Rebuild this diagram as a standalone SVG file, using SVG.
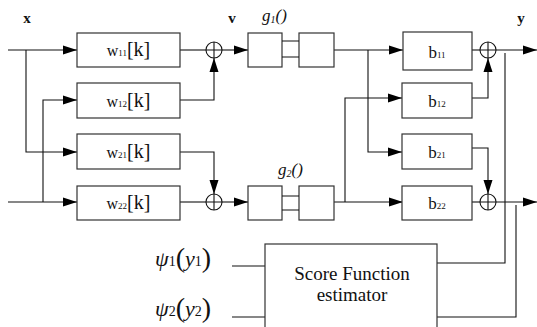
<svg xmlns="http://www.w3.org/2000/svg" width="537" height="327" viewBox="0 0 537 327">
<style>
.b{fill:#fff;stroke:#333;stroke-width:1.2}
.l{fill:none;stroke:#111;stroke-width:1.1}
text{font-family:'Liberation Serif','Times New Roman',serif;fill:#111}
.lb{font-weight:bold;font-size:15px}
</style>
<defs>
<marker id="a" markerWidth="14" markerHeight="10" refX="14" refY="5" orient="auto" markerUnits="userSpaceOnUse"><path d="M0,0.5L14,5L0,9.5z" fill="#000"/></marker>
</defs>
<rect width="537" height="327" fill="#fff"/>
<g id="connectors">
<path class="l" d="M8,50H77" marker-end="url(#a)"/>
<path class="l" d="M26,50V152H77" marker-end="url(#a)"/>
<path class="l" d="M8,202H77" marker-end="url(#a)"/>
<path class="l" d="M43,202V100H77" marker-end="url(#a)"/>
<path class="l" d="M180,50H206"/>
<path class="l" d="M180,100H214V58" marker-end="url(#a)"/>
<path class="l" d="M180,152H214V194" marker-end="url(#a)"/>
<path class="l" d="M180,202H206"/>
<path class="l" d="M222,50H248" marker-end="url(#a)"/>
<path class="l" d="M222,202H248" marker-end="url(#a)"/>
<path class="l" d="M334,50H403" marker-end="url(#a)"/>
<path class="l" d="M368,50V152H402" marker-end="url(#a)"/>
<path class="l" d="M334,202H403" marker-end="url(#a)"/>
<path class="l" d="M345,202V98H402" marker-end="url(#a)"/>
<path class="l" d="M472,50H480"/>
<path class="l" d="M472,98H488V58" marker-end="url(#a)"/>
<path class="l" d="M472,148H488V194" marker-end="url(#a)"/>
<path class="l" d="M472,202H480"/>
<path class="l" d="M496,50H537" marker-end="url(#a)"/>
<path class="l" d="M496,202H537" marker-end="url(#a)"/>
<path class="l" d="M505,53V263H437"/>
<path class="l" d="M516,205V317H437"/>
<path class="l" d="M232,266H265"/>
<path class="l" d="M232,317H265"/>
</g>
<g id="x-label"><text class="lb" x="27" y="23" text-anchor="middle">x</text></g>
<g id="v-label"><text class="lb" x="232" y="23" text-anchor="middle">v</text></g>
<g id="y-label"><text class="lb" x="521" y="23" text-anchor="middle">y</text></g>
<g id="w11"><rect class="b" x="77" y="33" width="103" height="34"/><text x="128.5" y="56" text-anchor="middle" font-size="16">w<tspan font-size="9">11</tspan><tspan font-size="20">[k]</tspan></text></g>
<g id="w12"><rect class="b" x="77" y="83" width="103" height="35"/><text x="128.5" y="107" text-anchor="middle" font-size="16">w<tspan font-size="9">12</tspan><tspan font-size="20">[k]</tspan></text></g>
<g id="w21"><rect class="b" x="77" y="134" width="103" height="35"/><text x="128.5" y="158" text-anchor="middle" font-size="16">w<tspan font-size="9">21</tspan><tspan font-size="20">[k]</tspan></text></g>
<g id="w22"><rect class="b" x="77" y="186" width="103" height="34"/><text x="128.5" y="209" text-anchor="middle" font-size="16">w<tspan font-size="9">22</tspan><tspan font-size="20">[k]</tspan></text></g>
<g id="sum1"><circle class="l" cx="214" cy="50" r="8"/><path class="l" d="M206,50H222M214,42V58"/></g>
<g id="sum2"><circle class="l" cx="214" cy="202" r="8"/><path class="l" d="M206,202H222M214,194V210"/></g>
<g id="g1"><rect class="b" x="248" y="33" width="34" height="34"/><rect class="b" x="299" y="33" width="35" height="34"/><path class="l" d="M282,41H299M282,57H299"/><text x="262" y="21" font-size="17" font-style="italic">g<tspan font-size="10" dy="2">1</tspan><tspan dy="-2">()</tspan></text></g>
<g id="g2"><rect class="b" x="248" y="186" width="34" height="34"/><rect class="b" x="299" y="186" width="35" height="34"/><path class="l" d="M282,196H299M282,210H299"/><text x="278" y="175" font-size="17" font-style="italic">g<tspan font-size="10" dy="2">2</tspan><tspan dy="-2">()</tspan></text></g>
<g id="b11"><rect class="b" x="403" y="32" width="69" height="38"/><text x="437" y="58" text-anchor="middle" font-size="17">b<tspan font-size="9">11</tspan></text></g>
<g id="b12"><rect class="b" x="402" y="83" width="70" height="35"/><text x="437" y="107" text-anchor="middle" font-size="17">b<tspan font-size="9">12</tspan></text></g>
<g id="b21"><rect class="b" x="402" y="134" width="70" height="35"/><text x="437" y="158" text-anchor="middle" font-size="17">b<tspan font-size="9">21</tspan></text></g>
<g id="b22"><rect class="b" x="402" y="186" width="70" height="34"/><text x="437" y="209" text-anchor="middle" font-size="17">b<tspan font-size="9">22</tspan></text></g>
<g id="sum3"><circle class="l" cx="488" cy="50" r="8"/><path class="l" d="M480,50H496M488,42V58"/></g>
<g id="sum4"><circle class="l" cx="488" cy="202" r="8"/><path class="l" d="M480,202H496M488,194V210"/></g>
<g id="sfe"><rect class="b" x="265" y="244" width="172" height="100"/><text x="352" y="280" text-anchor="middle" font-size="19">Score Function</text><text x="352" y="301" text-anchor="middle" font-size="19">estimator</text></g>
<g id="psi1"><text x="155" y="266" font-size="22"><tspan font-style="italic">ψ</tspan><tspan font-size="14">1</tspan><tspan font-size="28" dy="1">(</tspan><tspan font-style="italic" dy="-1">y</tspan><tspan font-size="14">1</tspan><tspan font-size="28" dy="1">)</tspan></text></g>
<g id="psi2"><text x="155" y="316" font-size="22"><tspan font-style="italic">ψ</tspan><tspan font-size="14">2</tspan><tspan font-size="28" dy="1">(</tspan><tspan font-style="italic" dy="-1">y</tspan><tspan font-size="14">2</tspan><tspan font-size="28" dy="1">)</tspan></text></g>
</svg>
